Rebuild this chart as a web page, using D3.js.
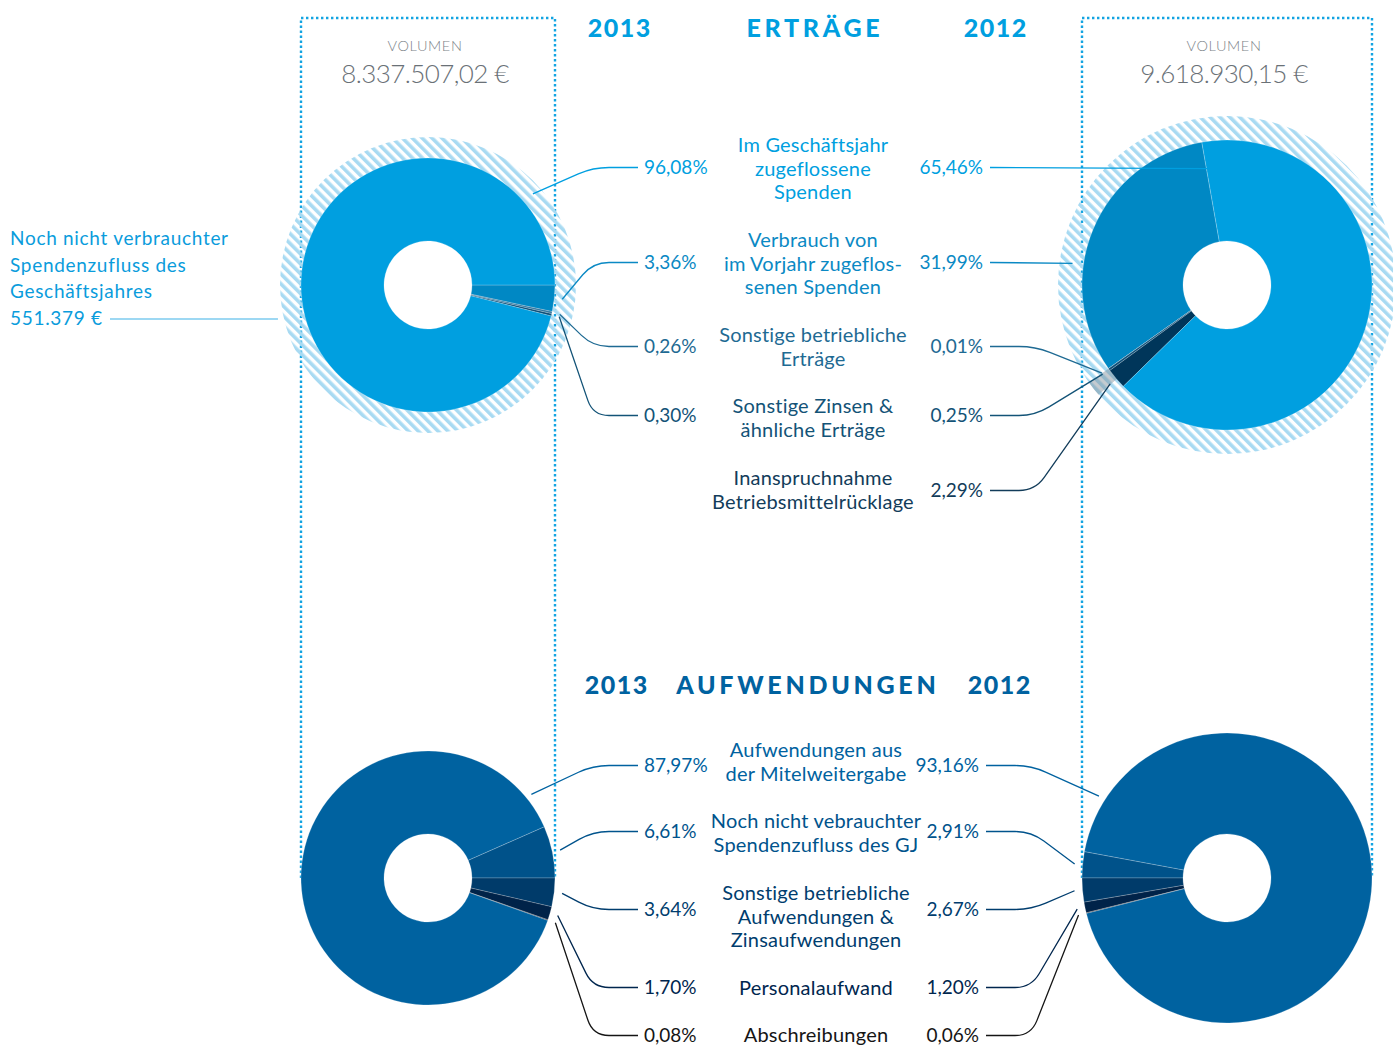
<!DOCTYPE html>
<html>
<head>
<meta charset="utf-8">
<script src="https://cdn.jsdelivr.net/npm/d3@7"></script>
<style>
  body { margin: 0; background: #fff; }
  svg { display: block; }
  text { font-family: Lato, 'Open Sans', sans-serif; }
</style>
</head>
<body>
<div id="chart"></div>
<script>
//Datos
const YEAR_LEFT = '2013', YEAR_RIGHT = '2012';
const TITLE_TOP = 'ERTRÄGE', TITLE_BOTTOM = 'AUFWENDUNGEN';

const ERTRAEGE_LABELS = [
    ['Im Geschäftsjahr', 'zugeflossene', 'Spenden'],
    ['Verbrauch von', 'im Vorjahr zugeflos-', 'senen Spenden'],
    ['Sonstige betriebliche', 'Erträge'],
    ['Sonstige Zinsen &', 'ähnliche Erträge'],
    ['Inanspruchnahme', 'Betriebsmittelrücklage']
];
const ERTRAEGE_2013 = [96.08, 3.36, 0.26, 0.30, null];
const ERTRAEGE_2012 = [65.46, 31.99, 0.01, 0.25, 2.29];

const AUFW_LABELS = [
    ['Aufwendungen aus', 'der Mitelweitergabe'],
    ['Noch nicht vebrauchter', 'Spendenzufluss des GJ'],
    ['Sonstige betriebliche', 'Aufwendungen &', 'Zinsaufwendungen'],
    ['Personalaufwand'],
    ['Abschreibungen']
];
const AUFW_2013 = [87.97, 6.61, 3.64, 1.70, 0.08];
const AUFW_2012 = [93.16, 2.91, 2.67, 1.20, 0.06];

const VOLUMEN_2013 = 8337507.02, VOLUMEN_2012 = 9618930.15;
const SPENDENZUFLUSS_LABEL = ['Noch nicht verbrauchter', 'Spendenzufluss des', 'Geschäftsjahres'];
const SPENDENZUFLUSS_2013 = 551379;

//Colores
const COL_ERTRAEGE = ['#009FE0', '#0088C4', '#2E76A0', '#0D4F78', '#00365A'];
const TXT_ERTRAEGE = ['#009FE0', '#0A89C4', '#1E6A93', '#135377', '#123C5A'];
const COL_AUFW = ['#0062A0', '#00528A', '#003B6A', '#002349', '#0B0E18'];
const TXT_AUFW = ['#0062A0', '#00538C', '#003D6E', '#00264E', '#151515'];
const COL_DOT = '#12A4E2', COL_HATCH = '#A8DAF2', COL_GREY = '#6A7177';

const de = d3.formatLocale({decimal: ',', thousands: '.', grouping: [3], currency: ['', ' €']});
const fPct = v => de.format(',.2f')(v) + '%';
const fEur2 = v => de.format(',.2f')(v) + ' €';
const fEur0 = v => de.format(',.0f')(v) + ' €';
const rad = a => a * Math.PI / 180;

const W = 1393, H = 1045;
const svg = d3.select('#chart').append('svg').attr('width', W).attr('height', H);

const defs = svg.append('defs');
defs.append('pattern')
    .attr('id', 'hatch')
    .attr('patternUnits', 'userSpaceOnUse')
    .attr('width', 7).attr('height', 7)
    .attr('patternTransform', 'rotate(-45)')
    .append('rect').attr('width', 3.6).attr('height', 7).attr('fill', COL_HATCH);

//Geometría
const LEFT = {cx: 428, r: 127}, RIGHT = {cx: 1227, r: 145};
const TOP_CY = 285, BOT_CY = 878, HOLE = 44;
const ORDER = [1, 2, 3, 4, 0];

function pointAt(c, angle, r) {
    return [c.cx + r * Math.sin(rad(angle)), c.cy - r * Math.cos(rad(angle))];
}

function donut(values, colors, c, start, dir, anchors, ring) {
    let g = svg.append('g').attr('transform', 'translate(' + c.cx + ',' + c.cy + ')');
    let items = ORDER.map(i => ({i: i, v: values[i] || 0}));
    let pie = d3.pie().sort(null).value(d => d.v)
        .startAngle(rad(start)).endAngle(rad(start + dir * 360));
    let arcs = pie(items);

    if (ring) {
        g.append('path')
            .attr('d', d3.arc().innerRadius(c.r - 2).outerRadius(ring.outer).startAngle(0).endAngle(2 * Math.PI)())
            .attr('fill', 'url(#hatch)');
        if (ring.grey) {
            g.append('path')
                .attr('d', d3.arc().innerRadius(c.r - 2).outerRadius(ring.outer)
                    .startAngle(rad(ring.grey[0])).endAngle(rad(ring.grey[1]))())
                .attr('fill', '#7D8C96').attr('opacity', 0.45);
        }
    }

    let arc = d3.arc().innerRadius(HOLE).outerRadius(c.r);
    g.selectAll('path.slice')
        .data(arcs.filter(d => d.data.v > 0))
        .enter().append('path')
        .attr('class', 'slice')
        .attr('d', arc)
        .attr('fill', d => colors[d.data.i])
        .attr('stroke', 'rgba(255,255,255,0.35)')
        .attr('stroke-width', 0.6);

    //Puntos de anclaje de las líneas
    let pts = [];
    arcs.forEach(d => {
        let mid = (d.startAngle + d.endAngle) / 2 * 180 / Math.PI;
        let a = anchors[d.data.i];
        let ang = a && a.angle != null ? a.angle : mid;
        let rr = a && a.r != null ? a.r : c.r + 8;
        pts[d.data.i] = pointAt(c, ang, rr);
    });
    return pts;
}

function leader(from, lx, ly, side, color) {
    //side: -1 = etiqueta a la derecha del donut izquierdo, 1 = etiqueta a la izquierda del derecho
    let [ax, ay] = from;
    let d;
    if (Math.abs(ay - ly) < 1.5) {
        d = 'M' + lx + ',' + ly + 'L' + ax + ',' + ay;
    } else {
        let kx = lx + side * 45, ky = ly;
        let dx = ax - kx, dy = ay - ky, len = Math.sqrt(dx * dx + dy * dy);
        let t = Math.min(16, len / 2);
        let px = kx + dx / len * t, py = ky + dy / len * t;
        d = 'M' + lx + ',' + ly + 'H' + (kx - side * 16) + 'Q' + kx + ',' + ky + ' ' + px + ',' + py + 'L' + ax + ',' + ay;
    }
    svg.append('path').attr('d', d).attr('fill', 'none')
        .attr('stroke', color).attr('stroke-width', 1.3);
}

//Cajas punteadas
[LEFT, RIGHT].forEach(c => {
    svg.append('path')
        .attr('d', 'M' + (c.cx - c.r) + ',' + BOT_CY + 'V18H' + (c.cx + c.r) + 'V' + BOT_CY)
        .attr('fill', 'none').attr('stroke', COL_DOT)
        .attr('stroke-width', 2.4).attr('stroke-dasharray', '2.4,2.6');
});

//Donuts Erträge
let tl = donut(ERTRAEGE_2013, COL_ERTRAEGE, {cx: LEFT.cx, cy: TOP_CY, r: LEFT.r}, 90, 1,
    {0: {angle: 49, r: 139}, 1: {r: 135}}, {outer: 148});
let tr = donut(ERTRAEGE_2012, COL_ERTRAEGE, {cx: RIGHT.cx, cy: TOP_CY, r: RIGHT.r}, -10, -1,
    {0: {angle: -9.5, r: 118}, 1: {angle: 278, r: 156}}, {outer: 169, grey: [229.5, 234.8]});

//Donuts Aufwendungen
let bl = donut(AUFW_2013, COL_AUFW, {cx: LEFT.cx, cy: BOT_CY, r: LEFT.r}, 66.2, 1,
    {0: {angle: 51, r: 133}}, null);
let br = donut(AUFW_2012, COL_AUFW, {cx: RIGHT.cx, cy: BOT_CY, r: RIGHT.r}, 280.5, -1,
    {0: {angle: 302.6, r: 152}}, null);

//Volumen
[[LEFT, VOLUMEN_2013], [RIGHT, VOLUMEN_2012]].forEach(([c, v]) => {
    svg.append('text').attr('x', c.cx - 3).attr('y', 51).attr('text-anchor', 'middle')
        .attr('font-size', 14.5).attr('font-weight', 300).attr('fill', '#7D8489')
        .attr('letter-spacing', 0.6)
        .text('VOLUMEN');
    svg.append('text').attr('x', c.cx - 3).attr('y', 83).attr('text-anchor', 'middle')
        .attr('font-size', 26).attr('font-weight', 300).attr('fill', COL_GREY)
        .attr('letter-spacing', -0.6)
        .text(fEur2(v));
});

//Títulos
function titles(y, color, cxL, cxM, cxR, title) {
    [[cxL, YEAR_LEFT, 1.5], [cxM, title, 3.7], [cxR, YEAR_RIGHT, 1.5]].forEach(([x, t, ls]) => {
        svg.append('text').attr('x', x + ls / 2).attr('y', y).attr('text-anchor', 'middle')
            .attr('font-size', 25).attr('font-weight', 900).attr('fill', color)
            .attr('letter-spacing', ls).text(t);
    });
}
titles(37, '#009FE0', 619, 813, 995, TITLE_TOP);
titles(694, '#0062A0', 616, 806, 999, TITLE_BOTTOM);

//Etiquetas
function labelBlock(labels, vL, vR, txt, ptsL, ptsR, cfg) {
    labels.forEach((lines, i) => {
        let t = svg.append('text').attr('text-anchor', 'middle')
            .attr('font-size', 20).attr('letter-spacing', 0.2).attr('fill', txt[i]);
        lines.forEach((l, j) => {
            t.append('tspan').attr('x', cfg.cx).attr('y', cfg.labelY[i] + j * 23.5).text(l);
        });
        let py = cfg.pctY[i];
        if (vL[i] != null) {
            svg.append('text').attr('x', 644).attr('y', py).attr('font-size', 19)
                .attr('fill', txt[i]).text(fPct(vL[i]));
            leader(ptsL[i], 638, py - 6.5, -1, txt[i]);
        }
        if (vR[i] != null) {
            svg.append('text').attr('x', cfg.rx).attr('y', py).attr('text-anchor', 'end')
                .attr('font-size', 19).attr('fill', txt[i]).text(fPct(vR[i]));
            leader(ptsR[i], cfg.rx + 7, py - 6.5, 1, txt[i]);
        }
    });
}
labelBlock(ERTRAEGE_LABELS, ERTRAEGE_2013, ERTRAEGE_2012, TXT_ERTRAEGE, tl, tr,
    {cx: 813, rx: 983, labelY: [152, 247, 342, 413, 485], pctY: [174, 269, 353, 422, 497]});
labelBlock(AUFW_LABELS, AUFW_2013, AUFW_2012, TXT_AUFW, bl, br,
    {cx: 816, rx: 979, labelY: [757, 828, 900, 995, 1042], pctY: [772, 838, 916, 994, 1042]});

//Texto lateral
let side = svg.append('text').attr('font-size', 19).attr('fill', '#0A9CDC').attr('letter-spacing', 0.7);
SPENDENZUFLUSS_LABEL.concat([fEur0(SPENDENZUFLUSS_2013)]).forEach((l, j) => {
    side.append('tspan').attr('x', 10).attr('y', 245 + j * 26.5).text(l);
});
let sy = 319, dyR = sy - TOP_CY;
svg.append('line')
    .attr('x1', 110).attr('x2', LEFT.cx - Math.sqrt(148 * 148 - dyR * dyR) - 6)
    .attr('y1', sy).attr('y2', sy)
    .attr('stroke', '#7CCBEF').attr('stroke-width', 1.5);
</script>
</body>
</html>
